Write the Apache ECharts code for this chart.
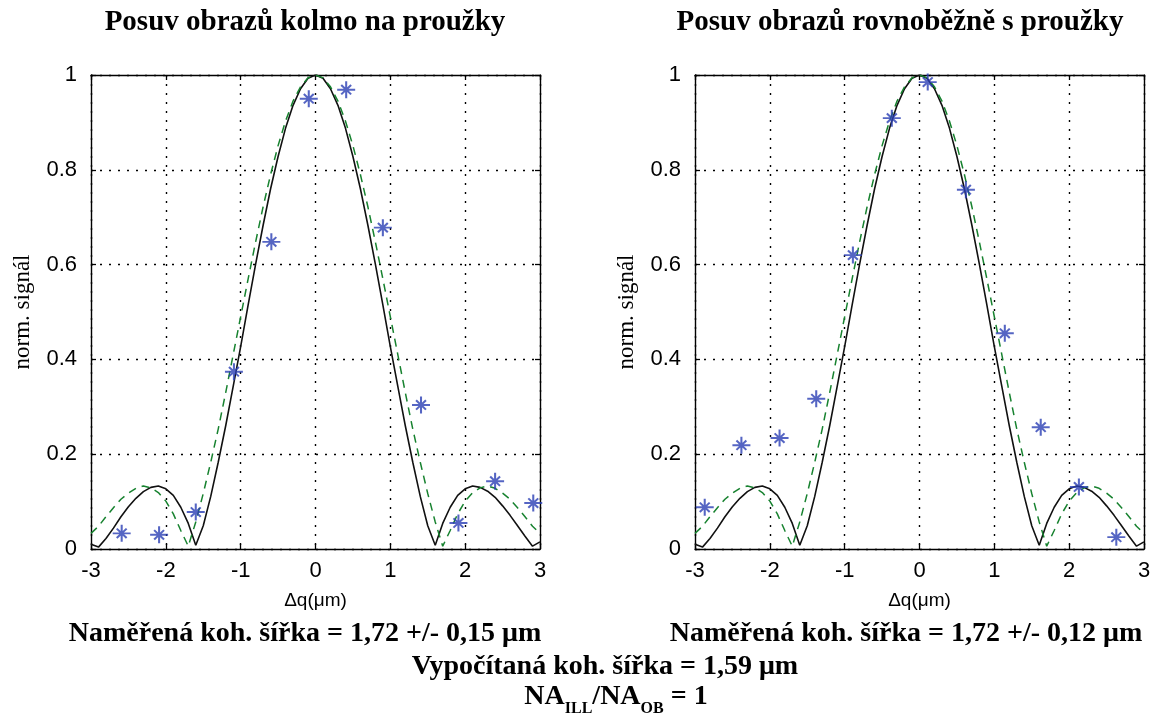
<!DOCTYPE html>
<html>
<head>
<meta charset="utf-8">
<script src="https://cdn.jsdelivr.net/npm/echarts@6/dist/echarts.min.js"></script>
<style>
  html, body { margin: 0; padding: 0; background: #ffffff; }
  #chart { width: 1159px; height: 720px; }
</style>
</head>
<body>
<div id="chart"></div>
<script>
// Sample positions of the computed coherence curves (µm)
const sampleX = [-3.0, -2.9, -2.8, -2.7, -2.6, -2.5, -2.4, -2.3, -2.2, -2.1, -2.0, -1.9, -1.8, -1.7, -1.6, -1.5, -1.4, -1.3, -1.2, -1.1, -1.0, -0.9, -0.8, -0.7, -0.6, -0.5, -0.4, -0.3, -0.2, -0.1, 0.0, 0.1, 0.2, 0.3, 0.4, 0.5, 0.6, 0.7, 0.8, 0.9, 1.0, 1.1, 1.2, 1.3, 1.4, 1.5, 1.6, 1.7, 1.8, 1.9, 2.0, 2.1, 2.2, 2.3, 2.4, 2.5, 2.6, 2.7, 2.8, 2.9, 3.0];

// Computed curve (solid black)
const calcCurve = [0.010, 0.004, 0.022, 0.044, 0.068, 0.089, 0.107, 0.121, 0.130, 0.133, 0.127, 0.113, 0.088, 0.054, 0.008, 0.049, 0.111, 0.183, 0.260, 0.343, 0.427, 0.515, 0.601, 0.683, 0.760, 0.828, 0.888, 0.936, 0.971, 0.993, 1.000, 0.993, 0.971, 0.936, 0.888, 0.828, 0.760, 0.683, 0.601, 0.515, 0.427, 0.343, 0.260, 0.183, 0.111, 0.049, 0.008, 0.054, 0.088, 0.113, 0.127, 0.133, 0.130, 0.122, 0.109, 0.091, 0.071, 0.049, 0.027, 0.006, 0.015];

// Curve for the measured coherence width (dashed green)
const measCurve = [0.033, 0.048, 0.068, 0.087, 0.105, 0.118, 0.128, 0.133, 0.129, 0.119, 0.101, 0.074, 0.039, 0.006, 0.057, 0.117, 0.183, 0.253, 0.330, 0.410, 0.490, 0.570, 0.648, 0.722, 0.790, 0.851, 0.903, 0.945, 0.975, 0.994, 1.000, 0.994, 0.975, 0.945, 0.903, 0.851, 0.790, 0.722, 0.648, 0.570, 0.490, 0.410, 0.330, 0.253, 0.183, 0.117, 0.057, 0.006, 0.039, 0.074, 0.101, 0.119, 0.129, 0.133, 0.128, 0.118, 0.105, 0.087, 0.068, 0.048, 0.033];

// Measured points, shift perpendicular to the fringes
const perpX = [-2.59, -2.09, -1.60, -1.09, -0.59, -0.09, 0.41, 0.90, 1.41, 1.91, 2.40, 2.91];
const perpY = [0.033, 0.030, 0.078, 0.374, 0.648, 0.950, 0.969, 0.678, 0.304, 0.055, 0.143, 0.097];

// Measured points, shift parallel to the fringes
const paraX = [-2.87, -2.38, -1.87, -1.38, -0.89, -0.37, 0.11, 0.62, 1.14, 1.62, 2.13, 2.63];
const paraY = [0.088, 0.219, 0.234, 0.317, 0.620, 0.909, 0.985, 0.758, 0.455, 0.257, 0.131, 0.025];

// Axis ticks
const xTicks = [-3, -2, -1, 0, 1, 2, 3];
const yTicks = [0, 0.2, 0.4, 0.6, 0.8, 1];

const panelTitles = ['Posuv obrazů kolmo na proužky', 'Posuv obrazů rovnoběžně s proužky'];
const widthNotes = ['Naměřená koh. šířka = 1,72 +/- 0,15 μm', 'Naměřená koh. šířka = 1,72 +/- 0,12 μm'];
const calcNote = 'Vypočítaná koh. šířka = 1,59 μm';

const SANS = '"Liberation Sans", Arial, sans-serif';
const SERIF = '"Liberation Serif", "Times New Roman", serif';
const INK = '#000000';
const STAR = '#2b3fb4';
const GREEN = '#17822f';

const pair = (xs, ys) => xs.map((x, i) => [x, ys[i]]);

const gridBoxes = [
  { left: 91, top: 75, width: 449, height: 474 },
  { left: 695, top: 75, width: 449, height: 474 }
];

const frameLine = { onZero: false, lineStyle: { color: INK, width: 1.4 } };
const frameTick = { inside: true, length: 5, lineStyle: { color: INK, width: 1.3 } };
const dotted = { show: true, lineStyle: { color: INK, width: 1.4, type: [2, 7] } };

const xAxes = [];
const yAxes = [];
const series = [];
// MATLAB style '*' marker: plus with shorter diagonals
const asterisk = 'path://M10 0 L10 20 M0 10 L20 10 M4.5 4.5 L15.5 15.5 M4.5 15.5 L15.5 4.5';

gridBoxes.forEach((g, gi) => {
  const xStep = xTicks[1] - xTicks[0];
  const yStep = yTicks[1] - yTicks[0];
  const xRange = { min: xTicks[0], max: xTicks[xTicks.length - 1], interval: xStep };
  const yRange = { min: yTicks[0], max: yTicks[yTicks.length - 1], interval: yStep };

  xAxes.push(Object.assign({
    gridIndex: gi, type: 'value', position: 'bottom',
    name: 'Δq(μm)', nameLocation: 'middle', nameGap: 42,
    nameTextStyle: { fontFamily: SANS, fontSize: 19, color: INK },
    axisLine: frameLine, axisTick: frameTick,
    axisLabel: { fontFamily: SANS, fontSize: 22, color: INK, margin: 11 },
    splitLine: dotted
  }, xRange));
  xAxes.push(Object.assign({
    gridIndex: gi, type: 'value', position: 'top',
    axisLine: frameLine, axisTick: frameTick,
    axisLabel: { show: false }, splitLine: { show: false }
  }, xRange));
  yAxes.push(Object.assign({
    gridIndex: gi, type: 'value', position: 'left',
    name: 'norm. signál', nameLocation: 'middle', nameGap: 57,
    nameTextStyle: { fontFamily: SERIF, fontSize: 23, color: INK },
    axisLine: frameLine, axisTick: frameTick,
    axisLabel: { fontFamily: SANS, fontSize: 22, color: INK, margin: 14 },
    splitLine: dotted
  }, yRange));
  yAxes.push(Object.assign({
    gridIndex: gi, type: 'value', position: 'right',
    axisLine: frameLine, axisTick: frameTick,
    axisLabel: { show: false }, splitLine: { show: false }
  }, yRange));

  const xi = gi * 2, yi = gi * 2;
  series.push({
    type: 'line', xAxisIndex: xi, yAxisIndex: yi,
    data: pair(sampleX, calcCurve), showSymbol: false, symbol: 'none',
    lineStyle: { color: '#111111', width: 1.6 }, z: 3
  });
  series.push({
    type: 'line', xAxisIndex: xi, yAxisIndex: yi,
    data: pair(sampleX, measCurve), showSymbol: false, symbol: 'none',
    lineStyle: { color: GREEN, width: 1.5, type: [8, 6] }, z: 3
  });
  series.push({
    type: 'scatter', xAxisIndex: xi, yAxisIndex: yi,
    data: gi === 0 ? pair(perpX, perpY) : pair(paraX, paraY),
    symbol: asterisk, symbolSize: [18, 17],
    itemStyle: { color: STAR, borderColor: STAR, borderWidth: 2 },
    z: 4
  });
});

const chart = echarts.init(document.getElementById('chart'), null, { renderer: 'canvas' });

const noteStyle = { fontFamily: SERIF, fontWeight: 'bold', fontSize: 28, fill: INK, align: 'center', verticalAlign: 'middle' };
const titleText = { fontFamily: SERIF, fontWeight: 'bold', fontSize: 29, color: INK };

chart.setOption({
  backgroundColor: '#ffffff',
  animation: false,
  title: [
    { text: panelTitles[0], left: 300, top: 3, textAlign: 'center', textStyle: titleText },
    { text: panelTitles[1], left: 895, top: 3, textAlign: 'center', textStyle: titleText }
  ],
  grid: gridBoxes.map(g => Object.assign({ containLabel: false }, g)),
  xAxis: xAxes,
  yAxis: yAxes,
  series: series,
  graphic: [
    { type: 'text', x: 305, y: 634, style: Object.assign({ text: widthNotes[0] }, noteStyle) },
    { type: 'text', x: 906, y: 634, style: Object.assign({ text: widthNotes[1] }, noteStyle) },
    { type: 'text', x: 605, y: 667, style: Object.assign({ text: calcNote }, noteStyle) },
    { type: 'text', x: 616, y: 700, style: {
        text: '{n|NA}{s|ILL}{n|/NA}{s|OB}{n| = 1}',
        align: 'center', verticalAlign: 'middle',
        rich: {
          n: { fontFamily: SERIF, fontWeight: 'bold', fontSize: 28, fill: INK, verticalAlign: 'bottom', padding: [0, 0, 6, 0] },
          s: { fontFamily: SERIF, fontWeight: 'bold', fontSize: 16, fill: INK, verticalAlign: 'bottom' }
        }
      } }
  ]
});
</script>
</body>
</html>
